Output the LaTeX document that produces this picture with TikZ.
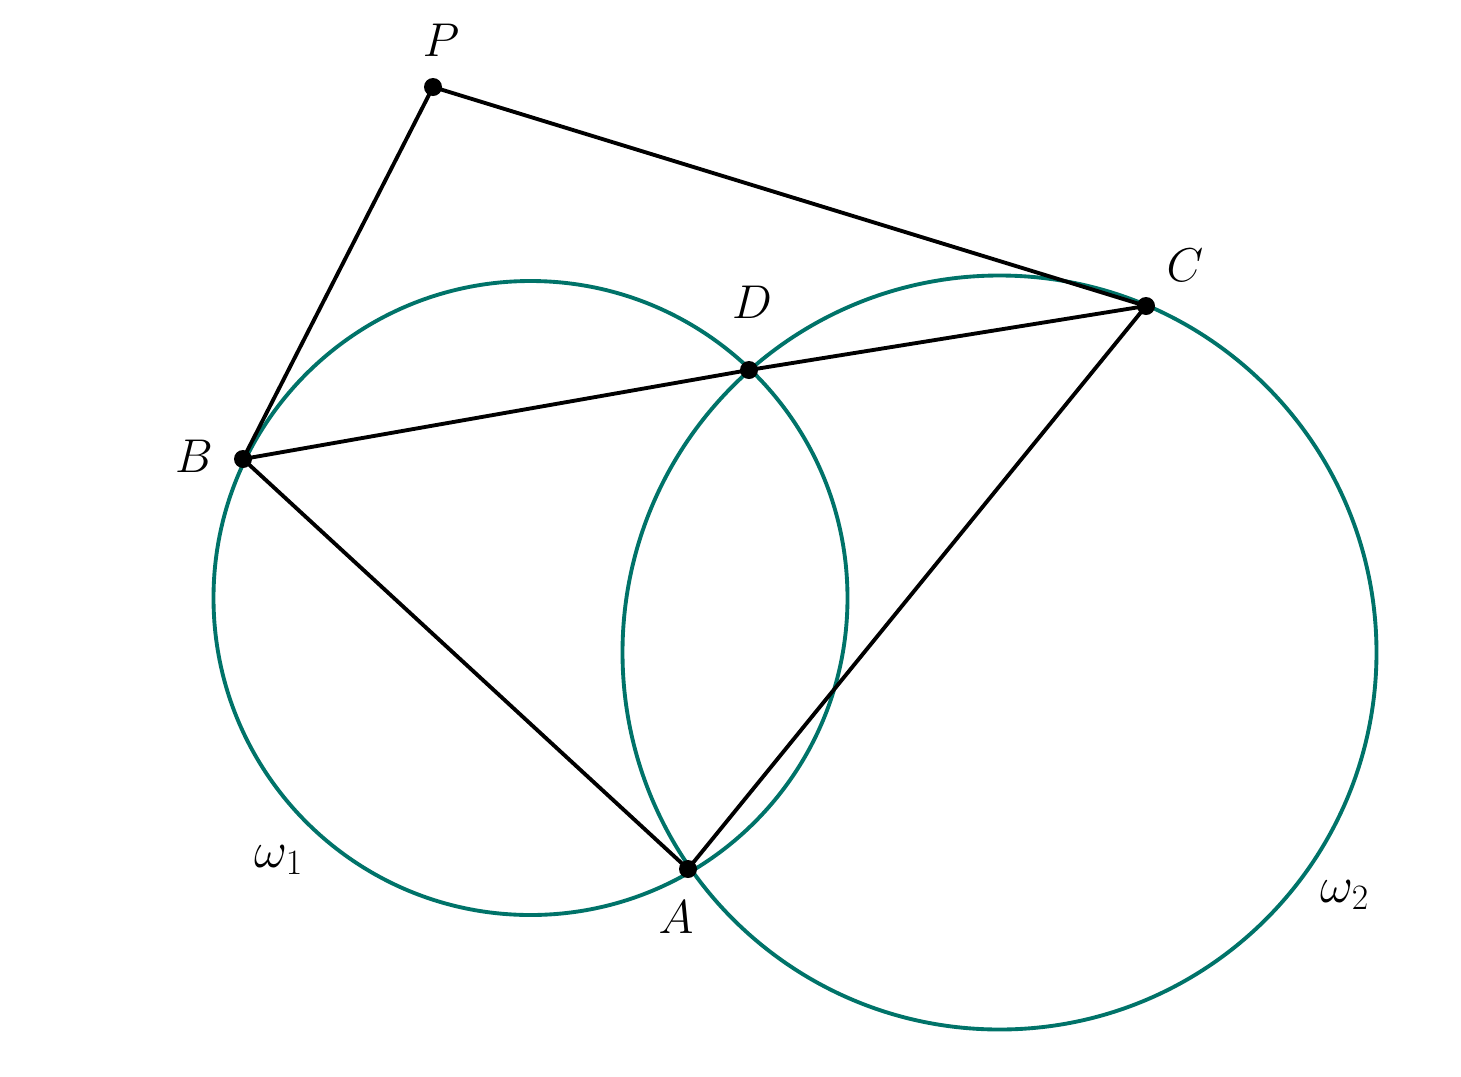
\RequirePackage{fix-cm}
\documentclass[tikz,border=0pt]{standalone}
\definecolor{circ}{RGB}{0,115,105}
\begin{document}
\begin{tikzpicture}[x=0.02cm,y=-0.02cm,
  seg/.style={line width=2.2pt,black},
  circline/.style={line width=2.2pt,circ},
  dotpt/.style={circle,fill=black,inner sep=0pt,minimum size=0.36cm},
  lbl/.style={font=\fontsize{27}{31}\selectfont},
  wlbl/.style={font=\fontsize{29}{33}\selectfont}]
\useasboundingbox (0,0) rectangle (1461,1076);
\fill[white] (0,0) rectangle (1461,1076);
\coordinate (O1) at (530.5,598);
\coordinate (O2) at (999.5,652.5);
\draw[circline] (O1) circle[radius=317];
\draw[circline] (O2) circle[radius=377];
\node[dotpt] (P) at (433,87) {};
\node[dotpt] (B) at (243,459) {};
\node[dotpt] (D) at (749,370) {};
\node[dotpt] (C) at (1146,306) {};
\node[dotpt] (A) at (688,869) {};
\draw[seg] (B.center) -- (P.center) -- (C.center);
\draw[seg] (B.center) -- (D.center) -- (C.center);
\draw[seg] (B.center) -- (A.center) -- (C.center);
\node[lbl] (lP) at (441,40) {$P$};
\node[lbl] (lB) at (194,456) {$B$};
\node[lbl] (lD) at (752,302) {$D$};
\node[lbl] (lC) at (1185,265) {$C$};
\node[lbl] (lA) at (676,917) {$A$};
\node[wlbl] (lw1) at (279,860) {$\omega_1$};
\node[wlbl] (lw2) at (1345,895) {$\omega_2$};
\end{tikzpicture}
\end{document}
